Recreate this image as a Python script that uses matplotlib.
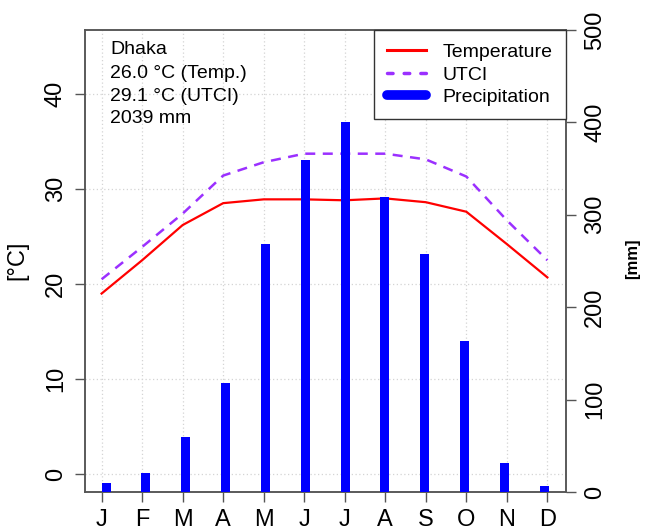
import numpy as np
import matplotlib
matplotlib.use('Agg')
import matplotlib.pyplot as plt
from matplotlib.lines import Line2D

plt.rcParams['font.family'] = ['Liberation Sans', 'DejaVu Sans']

months = ['J', 'F', 'M', 'A', 'M', 'J', 'J', 'A', 'S', 'O', 'N', 'D']
temp = [19.0, 22.5, 26.2, 28.5, 28.9, 28.9, 28.8, 29.0, 28.6, 27.6, 24.2, 20.7]
utci = [20.5, 23.9, 27.4, 31.4, 32.8, 33.7, 33.7, 33.7, 33.1, 31.3, 26.7, 22.5]
precip = [10, 21, 59, 118, 268, 359, 400, 319, 258, 163, 31, 6]
info = ['Dhaka', '26.0 \u00b0C (Temp.)', '29.1 \u00b0C (UTCI)', '2039 mm']

red = '#ff0000'
purple = '#9b30ff'
blue = '#0000ff'
axcol = '#555555'

x = np.arange(1, 13)
bar_x = 1.11 + np.arange(12) * 0.983

fig = plt.figure(figsize=(6.46, 5.32), dpi=100)
ax = fig.add_axes([85 / 646, 40 / 532, 481 / 646, 462 / 532])
ax.set_xlim(0.59, 12.46)
ax.set_ylim(-1.86, 46.7)

# grid
for xi in x:
    ax.axvline(xi, color='#d4d4d4', lw=0.9, ls=(0, (1, 2)), zorder=0)
for yi in range(0, 50, 10):
    ax.axhline(yi, color='#d4d4d4', lw=0.9, ls=(0, (1, 2)), zorder=0)

ax.plot(x, temp, color=red, lw=1.6, zorder=2)
ax.plot(x, utci, color=purple, lw=1.8, ls=(0, (4, 3)), zorder=2)

ax.set_xticks(x)
ax.set_xticklabels(months, fontsize=17)
ax.set_yticks([0, 10, 20, 30, 40])
ax.set_yticklabels(['0', '10', '20', '30', '40'], fontsize=17, rotation=90, va='center')
ax.tick_params(axis='both', length=7, width=1, color=axcol, pad=6)
ax.tick_params(axis='x', pad=5)
for s in ax.spines.values():
    s.set_color(axcol)
    s.set_linewidth(1.1)

ax2 = ax.twinx()
ax2.set_ylim(0, 500)
ax2.bar(bar_x, precip, width=0.22, color=blue, zorder=3)
ax2.set_yticks([0, 100, 200, 300, 400, 500])
ax2.set_yticklabels(['0', '100', '200', '300', '400', '500'], fontsize=17,
                    rotation=90, va='center')
ax2.tick_params(axis='y', length=7, width=1, color=axcol, pad=6)
for s in ax2.spines.values():
    s.set_color(axcol)
    s.set_linewidth(1.1)

fig.text(17 / 646, 1 - 260 / 532, '[\u00b0C]', fontsize=17, rotation=90,
         ha='center', va='center')
fig.text(633 / 646, 1 - 259 / 532, '[mm]', fontsize=12, fontweight='bold',
         rotation=90, ha='center', va='center')

ys = [0.947, 0.897, 0.847, 0.798]
for t, yy in zip(info, ys):
    ax.text(0.052, yy, t, transform=ax.transAxes,
            fontsize=14, va='baseline', ha='left', zorder=5)

handles = [Line2D([], [], color=red, lw=2.2),
           Line2D([], [], color=purple, lw=2.5, ls=(0, (1.6, 3.2)), dash_capstyle='round'),
           Line2D([], [], color=blue, lw=7, solid_capstyle='round')]
leg = ax2.legend(handles, ['Temperature', 'UTCI', 'Precipitation'],
                 loc='upper right', bbox_to_anchor=(1.0, 1.0), borderaxespad=0,
                 fontsize=14, fancybox=False, framealpha=1, edgecolor='#333333',
                 handlelength=2.0, handletextpad=0.85, borderpad=0.68,
                 labelspacing=0.26)
leg.get_frame().set_linewidth(1.0)
leg.set_zorder(10)

fig.savefig('out.png', dpi=100)
